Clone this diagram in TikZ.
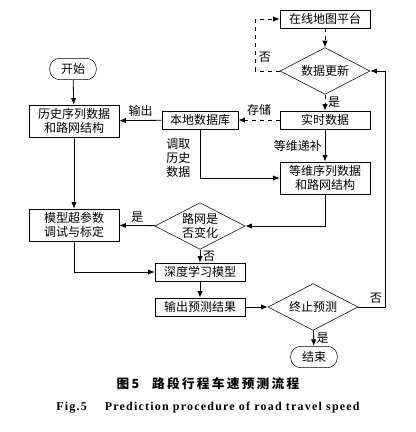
\documentclass[tikz,border=0pt]{standalone}
\usepackage{fontspec}
\setmainfont{Noto Sans CJK SC}
\newfontfamily\capfont[LetterSpace=18]{Noto Sans CJK SC}
\newfontfamily\engfont[LetterSpace=10]{Liberation Serif}
\usetikzlibrary{arrows.meta,positioning,shapes.geometric}

\begin{document}
\begin{tikzpicture}[
  x=0.75pt,y=-0.75pt,
  box/.style={draw,minimum width=67.5pt,minimum height=13.5pt,inner sep=1pt,align=center,font=\fontsize{9}{10.5}\selectfont},
  tallbox/.style={box,minimum height=24pt},
  term/.style={box,rounded corners=7.5pt,minimum width=35pt,minimum height=16pt},
  dec/.style={draw,diamond,aspect=1.93,minimum width=67.5pt,minimum height=35pt,inner sep=0pt,align=center,font=\fontsize{9}{10.5}\selectfont},
  arr/.style={-{Latex[length=5pt,width=4pt]},line width=0.6pt},
  darr/.style={arr,dashed},
  lbl/.style={font=\fontsize{9}{10.5}\selectfont,inner sep=2pt}
]
\useasboundingbox (0,0) rectangle (416,432);

% nodes
\node[box] (online) at (325,19) {在线地图平台};
\node[dec] (update) at (325,71) {数据更新};
\node[box] (realtime) at (325,120) {实时数据};
\node[box,minimum width=57pt] (local) at (200,120) {本地数据库};
\node[term] (start) at (73,69) {开始};
\node[tallbox] (hist) at (74,121) {历史序列数据\\和路网结构};
\node[tallbox] (equal) at (325,178) {等维序列数据\\和路网结构};
\node[dec] (change) at (200,226) {路网是\\否变化};
\node[tallbox] (tune) at (74,225) {模型超参数\\调试与标定};
\node[box] (deep) at (200,272) {深度学习模型};
\node[box] (output) at (200,307) {输出预测结果};
\node[dec] (stop) at (313,307) {终止预测};
\node[term] (end) at (314,357) {结束};

% connectors
\draw[darr] (online) -- (update);
\draw[darr] (update.west) -- ++(-24,0) |- node[lbl,right,pos=0.13] (nolbl1) {否} (online.west);
\draw[darr] (update) -- node[lbl,right] (yeslbl1) {是} (realtime);
\draw[darr] (realtime) -- node[lbl,above=1pt] (storelbl) {存储} (local);
\draw[arr] (local) -- node[lbl,above=1pt] (outlbl) {输出} (hist);
\draw[arr] (start) -- (hist);
\draw[arr] (local.south) |- node[lbl,left=5pt,pos=0.3,align=center] (fetchlbl) {调取\\历史\\数据} (equal.west);
\draw[arr] (realtime) -- node[lbl,left] (filllbl) {等维递补} (equal);
\draw[arr] (equal.south) |- (change.east);
\draw[arr] (change) -- node[lbl,above] (yeslbl2) {是} (tune);
\draw[arr] (hist) -- (tune);
\draw[arr] (change) -- node[lbl,right] (nolbl2) {否} (deep);
\draw[arr] (tune.south) |- (deep.west);
\draw[arr] (deep) -- (output);
\draw[arr] (output) -- (stop);
\draw[arr] (stop.east) -- node[lbl,above,pos=0.65] (nolbl3) {否} ++(27,0) |- (update.east);
\draw[arr] (stop) -- node[lbl,right] (yeslbl3) {是} (end);

% captions
\node (capcn) at (208,384) {\capfont\bfseries\fontsize{9.5}{11}\selectfont 图5\hspace{1em}路段行程车速预测流程};
\node (capen) at (208,408) {\engfont\bfseries\fontsize{9}{11}\selectfont Fig.5\hspace{1.5em}Prediction procedure of road travel speed};
\end{tikzpicture}
\end{document}
